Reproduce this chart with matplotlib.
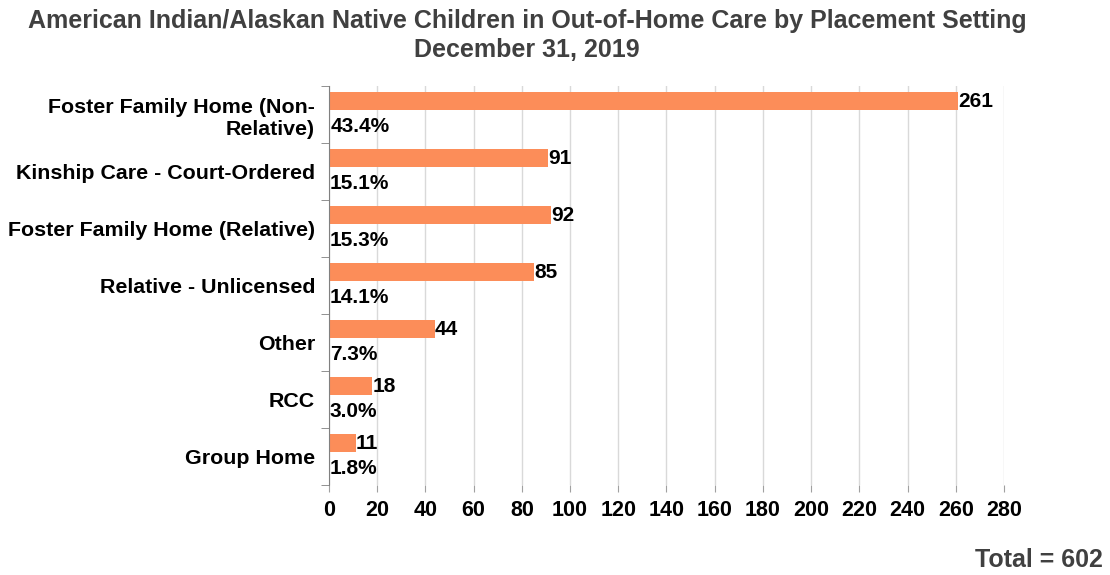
import numpy as np
import matplotlib.pyplot as plt

plt.rcParams['font.family'] = ['Liberation Sans', 'DejaVu Sans']

# Data
categories = ["Foster Family Home (Non-\nRelative)", "Kinship Care - Court-Ordered",
              "Foster Family Home (Relative)", "Relative - Unlicensed", "Other", "RCC", "Group Home"]
counts = [261, 91, 92, 85, 44, 18, 11]
shares = [0.434, 0.151, 0.153, 0.141, 0.073, 0.030, 0.018]
total = 602

title = "American Indian/Alaskan Native Children in Out-of-Home Care by Placement Setting\nDecember 31, 2019"

fig = plt.figure(figsize=(11.1, 5.75), dpi=100)
ax = fig.add_axes([0.2964, 0.1565, 0.9045 - 0.2964, 0.850 - 0.1565])

y = np.arange(len(categories))
h = 0.32
ax.barh(y - 0.235, counts, height=h, color="#FC8D59", zorder=3)
ax.barh(y + 0.215, shares, height=h, color="#FDB98F", zorder=3)

for yi, c, s in zip(y, counts, shares):
    ax.text(c, yi - 0.235, str(c), va="center", ha="left", fontsize=15,
            fontweight="bold", color="black")
    ax.text(s + 0.3, yi + 0.215, f"{s*100:.1f}%", va="center", ha="left",
            fontsize=15, fontweight="bold", color="black")

ax.set_ylim(len(categories) - 0.5, -0.5)
ax.set_xlim(0, 280)
ax.set_xticks(np.arange(0, 281, 20))
ax.set_yticks(y)
ax.set_yticklabels(categories, fontsize=15.4, fontweight="bold", linespacing=1.2)
ax.set_yticks(np.arange(-0.5, len(categories), 1), minor=True)
ax.tick_params(axis="y", which="major", length=0, pad=10)
ax.tick_params(axis="y", which="minor", length=6, color="#808080", direction="out")
ax.tick_params(axis="x", length=5, color="#A0A0A0", labelsize=15.5, pad=6)
for lbl in ax.get_xticklabels():
    lbl.set_fontweight("bold")

ax.grid(axis="x", color="#D9D9D9", linewidth=1, zorder=0)
for side in ["top", "right", "bottom"]:
    ax.spines[side].set_visible(False)
ax.spines["left"].set_color("#808080")
ax.spines["left"].set_zorder(4)

fig.text(0.475, 0.985, title, ha="center", va="top", fontsize=18, fontweight="bold",
         color="#404040", linespacing=1.3)
fig.text(0.994, 0.005, f"Total = {total}", ha="right", va="bottom", fontsize=18,
         fontweight="bold", color="#404040")

fig.savefig("out.png", dpi=100)
